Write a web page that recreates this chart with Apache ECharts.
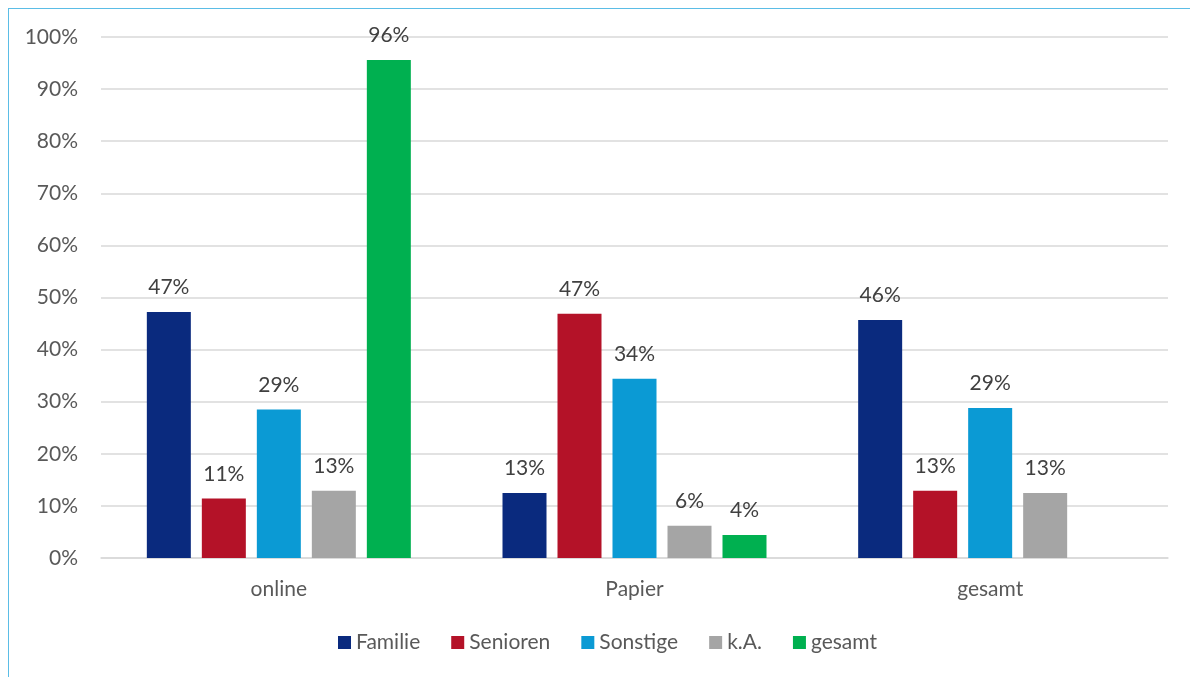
<!DOCTYPE html>
<html><head><meta charset="utf-8">
<script src="https://cdn.jsdelivr.net/npm/echarts@6/dist/echarts.min.js"></script>
<style>
html,body{margin:0;padding:0;background:#fff;}
#frame{position:absolute;left:8px;top:8px;width:1182px;height:669px;border-left:1.5px solid #5bbde6;border-top:1.5px solid #5bbde6;box-sizing:border-box;}
#c{position:absolute;left:0;top:0;width:1190px;height:677px;}
</style></head>
<body><div id="frame"></div><div id="c"></div>
<script>
const categories = ['online', 'Papier', 'gesamt'];
const familie = [47.2, 12.5, 45.7];
const senioren = [11.4, 46.9, 12.9];
const sonstige = [28.5, 34.4, 28.8];
const ka = [12.9, 6.2, 12.5];
const gesamt = [95.6, 4.4, null];
const seriesNames = ['Familie', 'Senioren', 'Sonstige', 'k.A.', 'gesamt'];
const colors = ['#0a2a7e', '#b41228', '#0b9ad4', '#a5a5a5', '#00b050'];
const yTicks = [0, 10, 20, 30, 40, 50, 60, 70, 80, 90, 100];

const FONT = 'Lato, "Open Sans", sans-serif';
const data = [familie, senioren, sonstige, ka, gesamt];
const chart = echarts.init(document.getElementById('c'));
chart.setOption({
  animation: false,
  textStyle: {fontFamily: FONT},
  grid: {left: 101, right: 22, top: 37, bottom: 119, containLabel: false},
  legend: {
    bottom: 19, left: 333, itemWidth: 13, itemHeight: 13, itemGap: 31,
    icon: 'rect',
    textStyle: {fontFamily: FONT, fontSize: 21, color: '#595959'},
    data: seriesNames
  },
  xAxis: {
    type: 'category', data: categories,
    axisLine: {lineStyle: {color: '#d9d9d9', width: 1.5}},
    axisTick: {show: false},
    axisLabel: {fontFamily: FONT, fontSize: 21, color: '#595959', margin: 21}
  },
  yAxis: {
    type: 'value', min: yTicks[0], max: yTicks[yTicks.length - 1], interval: 10,
    axisLine: {show: false}, axisTick: {show: false},
    splitLine: {lineStyle: {color: '#d9d9d9', width: 1.5}},
    axisLabel: {fontFamily: FONT, fontSize: 21, color: '#595959', margin: 23, formatter: v => v + '%'}
  },
  series: seriesNames.map((n, i) => ({
    name: n, type: 'bar', data: data[i],
    barWidth: 44, barGap: '25%',
    itemStyle: {color: colors[i]},
    label: {show: true, position: 'top', distance: 14, fontFamily: FONT, fontSize: 21, color: '#404040',
      formatter: p => p.value == null ? '' : Math.round(p.value) + '%'}
  }))
});
</script></body></html>
